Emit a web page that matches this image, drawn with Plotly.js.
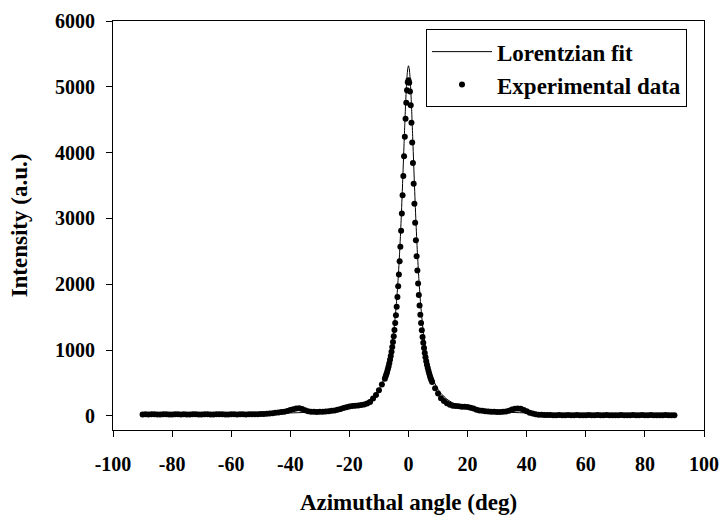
<!DOCTYPE html>
<html>
<head>
<meta charset="utf-8">
<script src="https://cdn.plot.ly/plotly-3.0.1.min.js"></script>
<style>html,body{margin:0;padding:0;background:#fff;}#chart{width:722px;height:515px;}</style>
</head>
<body>
<div id="chart"></div>
<script>
// Experimental data: azimuthal angle (deg) and intensity (a.u.)
const dataAngle = [
  -90,-89,-88,-87,-86,-85,-84,-83,-82,-81,-80,-79,-78,-77,-76,-75,-74,-73,-72,-71,
  -70,-69,-68,-67,-66,-65,-64,-63,-62,-61,-60,-59,-58,-57,-56,-55,-54,-53,-52,-51,
  -50,-49,-48,-47,-46,-45,-44,-43,-42,-41,-40,-39,-38,-37,-36,-35,-34,-33,-32,-31,
  -30,-29,-28,-27,-26,-25,-24,-23,-22,-21,-20,-19,-18,-17,-16,-15,-14,-13,-12,-11,
  -10,-9,
  -8,-7.75,-7.5,-7.25,-7,-6.75,-6.5,-6.25,-6,-5.75,-5.5,-5.25,-5,-4.75,-4.5,-4.25,
  -4,-3.75,-3.5,-3.25,-3,-2.75,-2.5,-2.25,-2,-1.75,-1.5,-1.25,-1,-0.75,-0.5,-0.25,
  0,
  0.25,0.5,0.75,1,1.25,1.5,1.75,2,2.25,2.5,2.75,3,3.25,3.5,3.75,4,
  4.25,4.5,4.75,5,5.25,5.5,5.75,6,6.25,6.5,6.75,7,7.25,7.5,7.75,8,
  9,10,11,12,13,14,15,16,17,18,19,20,21,22,23,24,25,26,27,28,29,30,
  31,32,33,34,35,36,37,38,39,40,41,42,43,44,45,46,47,48,49,50,
  51,52,53,54,55,56,57,58,59,60,61,62,63,64,65,66,67,68,69,70,
  71,72,73,74,75,76,77,78,79,80,81,82,83,84,85,86,87,88,89,90
];
const dataIntensity = [
  24,26,22,25,27,23,24,26,25,22,24,27,25,23,26,24,22,25,27,24,
  23,26,25,24,22,25,27,26,24,23,25,26,24,27,25,23,26,28,25,27,
  29,31,34,38,42,48,54,60,66,76,90,104,114,116,106,88,72,66,63,62,
  63,65,68,72,78,85,95,106,120,134,144,150,155,158,165,175,190,212,265,318,
  390,480,
  567,598,632,669,709,753,801,854,912,976,1046,1124,1210,1305,1411,1529,
  1660,1806,1969,2149,2350,2570,2812,3074,3352,3646,3945,4240,4517,4758,4947,5068,
  5100,
  5063,4929,4720,4455,4156,3842,3526,3222,2935,2670,2428,2209,2012,1836,1679,1539,
  1413,1301,1201,1111,1031,958,892,833,779,731,686,646,609,575,544,515,
  420,340,270,228,195,170,156,150,146,142,139,135,126,112,96,85,78,72,68,65,63,62,
  62,64,68,80,98,110,114,108,90,70,50,36,26,20,17,15,14,13,12,12,
  13,11,12,14,12,11,13,12,10,12,13,11,12,14,12,11,13,12,10,12,
  11,13,12,10,12,13,11,12,14,12,11,13,12,10,12,11,13,12,11,12
];

// Lorentzian fit curve
const fitAngle = [
  -90,-80,-70,-60,-50,-45,-40,-35,-30,-25,-20,-17,-15,-13,-11,-10,-9,-8,-7,-6,-5,
  -4.5,-4,-3.5,-3,-2.5,-2,-1.5,-1.25,-1,-0.75,-0.5,-0.25,0,
  0.25,0.5,0.75,1,1.25,1.5,2,2.5,3,3.5,4,4.5,5,6,7,8,9,10,11,13,15,17,20,25,30,35,40,45,50,60,70,80,90
];
const fitIntensity = [
  25,27,28,32,37,40,46,54,66,86,122,160,198,255,343,405,488,599,751,968,1285,
  1500,1763,2088,2487,2969,3530,4138,4439,4720,4965,5156,5278,5320,
  5278,5156,4965,4720,4439,4138,3530,2969,2487,2088,1763,1500,1285,968,751,599,488,405,343,255,198,160,122,86,66,54,46,40,37,32,28,27,25
];

const xTicks = [-100,-80,-60,-40,-20,0,20,40,60,80,100];
const yTicks = [0,1000,2000,3000,4000,5000,6000];

const fontFam = '"Liberation Serif", "Times New Roman", serif';

const traces = [
  {
    x: fitAngle, y: fitIntensity, type: 'scatter', mode: 'lines',
    name: '<b>Lorentzian fit</b>',
    line: {color: '#000', width: 1, shape: 'spline', smoothing: 0.6}
  },
  {
    x: dataAngle, y: dataIntensity, type: 'scatter', mode: 'markers',
    name: '<b>Experimental data</b>',
    marker: {color: '#000', size: 6}
  }
];

const layout = {
  width: 722, height: 515,
  margin: {l: 113, r: 18, t: 21, b: 85},
  paper_bgcolor: '#fff', plot_bgcolor: '#fff',
  font: {family: fontFam, color: '#000', size: 20},
  showlegend: true,
  legend: {
    x: 0.5296, y: 0.98, xanchor: 'left', yanchor: 'top',
    bordercolor: '#000', borderwidth: 1, bgcolor: '#fff',
    font: {family: fontFam, size: 23, color: '#000'},
    itemwidth: 60,
    tracegroupgap: 0
  },
  xaxis: {
    range: [-100, 100], tickvals: xTicks, ticktext: xTicks.map(v => '<b>' + v + '</b>'),
    ticks: 'outside', ticklen: 6, tickwidth: 1, tickcolor: '#000',
    ticklabelstandoff: 10,
    showline: true, linecolor: '#000', linewidth: 1, mirror: true,
    showgrid: false, zeroline: false,
    tickfont: {family: fontFam, size: 20, color: '#000'},
    title: {text: '<b>Azimuthal angle (deg)</b>', font: {family: fontFam, size: 23, color: '#000'}, standoff: 20}
  },
  yaxis: {
    range: [-213, 6000], tickvals: yTicks, ticktext: yTicks.map(v => '<b>' + v + '</b>'),
    ticks: 'outside', ticklen: 6, tickwidth: 1, tickcolor: '#000',
    ticklabelstandoff: 7,
    showline: true, linecolor: '#000', linewidth: 1, mirror: true,
    showgrid: false, zeroline: false,
    tickfont: {family: fontFam, size: 20, color: '#000'},
    title: {text: '<b>Intensity (a.u.)</b>', font: {family: fontFam, size: 23, color: '#000'}, standoff: 20}
  }
};

Plotly.newPlot('chart', traces, layout, {displayModeBar: false, responsive: false});
</script>
</body>
</html>
